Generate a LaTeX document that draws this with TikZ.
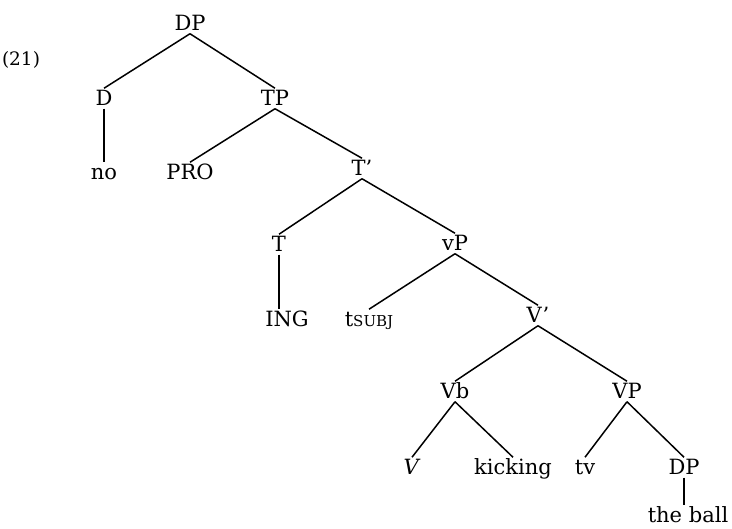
\documentclass[tikz,border=0pt]{standalone}
\usepackage{fontspec}
\setmainfont{DejaVu Serif}
\usepackage{tikz}
\usetikzlibrary{positioning}

\begin{document}
\begin{tikzpicture}[
line width=1.5pt,
treenode/.style={inner sep=2pt, text height=15pt, text depth=0pt, font=\fontsize{21}{24}\selectfont, on grid},
]
\useasboundingbox (0,0) rectangle (732pt,-529pt);
%Nodes
\node[treenode](DP1) at (190pt,-23.5pt){DP};
\node[treenode, font=\fontsize{18.5}{22}\selectfont](ex)[below left=35pt and 169pt of DP1]{(21)};
\node[treenode](D)[below left=75pt and 86pt of DP1]{D};
\node[treenode](TP)[below right=75pt and 85pt of DP1]{TP};
\node[treenode](no)[below=74pt of D]{no};
\node[treenode](PRO)[below left=74pt and 85pt of TP]{PRO};
\node[treenode](Tbar)[below right=70pt and 87pt of TP]{T'};
\node[treenode](T)[below left=76pt and 83pt of Tbar]{T};
\node[treenode](vP)[below right=75pt and 93pt of Tbar]{vP};
\node[treenode](ING)[below right=75pt and 8pt of T]{ING};
\node[treenode](tsubj)[below left=76pt and 86pt of vP]{t{\fontsize{15}{18}\selectfont SUBJ}};
\node[treenode](Vbar)[below right=72pt and 83pt of vP]{V'};
\node[treenode](Vb)[below left=76pt and 83pt of Vbar]{Vb};
\node[treenode](VP)[below right=76pt and 89pt of Vbar]{VP};
\node[treenode](V)[below left=76pt and 43pt of Vb]{\textit{V}};
\node[treenode](kicking)[below right=76pt and 58pt of Vb]{kicking};
\node[treenode](tv)[below left=76pt and 42pt of VP]{tv};
\node[treenode](DP2)[below right=76pt and 57pt of VP]{DP};
\node[treenode](ball)[below right=48pt and 4pt of DP2]{the ball};

%Lines
\draw (DP1.south) -- (D.north);
\draw (DP1.south) -- (TP.north);
\draw (D.south) -- (no.north);
\draw (TP.south) -- (PRO.north);
\draw (TP.south) -- (Tbar.north);
\draw (Tbar.south) -- (T.north);
\draw (Tbar.south) -- (vP.north);
\draw (T.south) -- (T.south |- ING.north);
\draw (vP.south) -- (tsubj.north);
\draw (vP.south) -- (Vbar.north);
\draw (Vbar.south) -- (Vb.north);
\draw (Vbar.south) -- (VP.north);
\draw (Vb.south) -- (V.north);
\draw (Vb.south) -- (kicking.north);
\draw (VP.south) -- (tv.north);
\draw (VP.south) -- (DP2.north);
\draw (DP2.south) -- (DP2.south |- ball.north);
\end{tikzpicture}
\end{document}
